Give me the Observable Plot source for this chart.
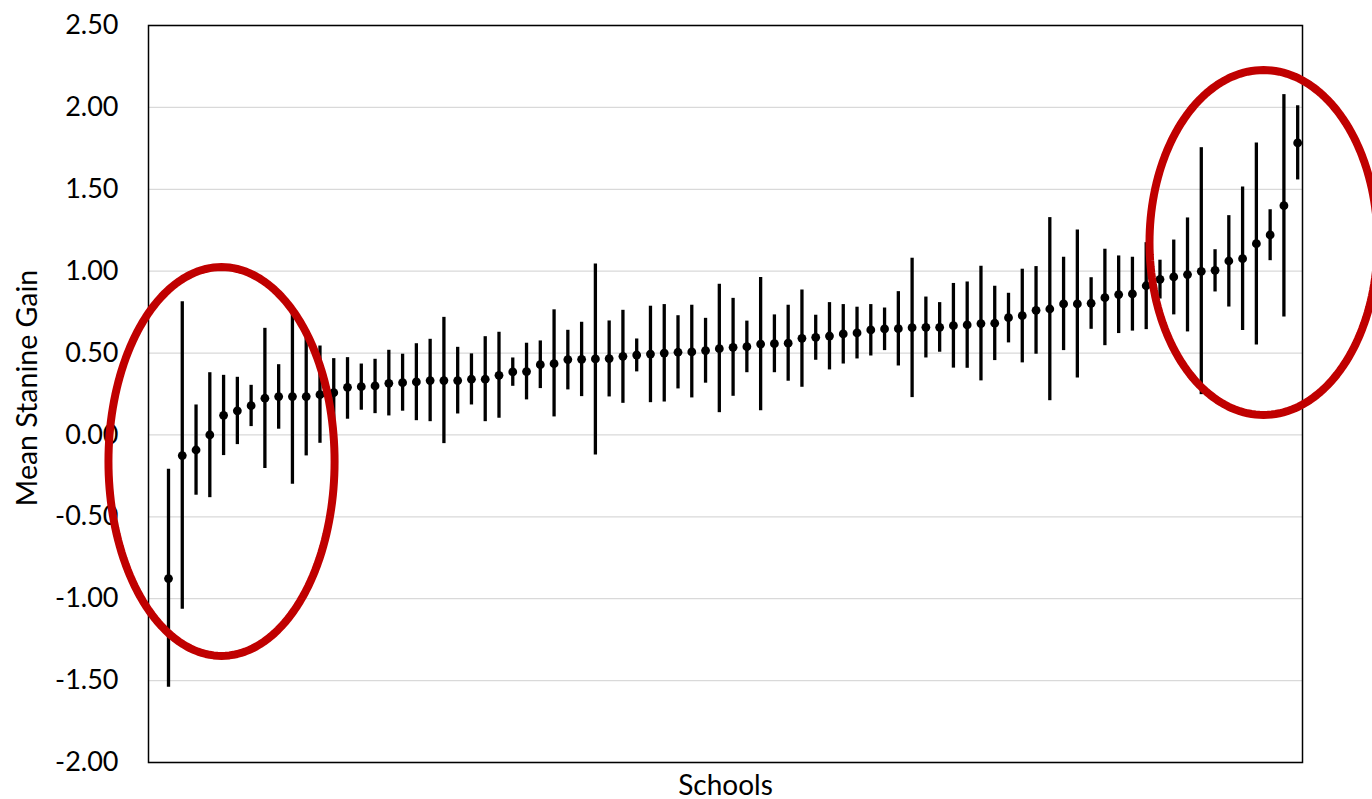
<!DOCTYPE html>
<html>
<head>
<meta charset="utf-8">
<script src="https://cdn.jsdelivr.net/npm/d3@7"></script>
<script src="https://cdn.jsdelivr.net/npm/@observablehq/plot@0.6"></script>
<style>
  html, body { margin: 0; padding: 0; background: #fff; }
  #chart svg { display: block; }
</style>
</head>
<body>
<div id="chart"></div>
<script>
// School means (sorted) with confidence interval bounds
const meanGain = [
  -0.877, -0.126, -0.092, 0.000, 0.120, 0.147, 0.179, 0.224, 0.234, 0.234,
   0.234,  0.246,  0.258, 0.291, 0.295, 0.299, 0.315, 0.319, 0.324, 0.332,
   0.332,  0.332,  0.340, 0.340, 0.364, 0.385, 0.387, 0.429, 0.435, 0.460,
   0.462,  0.464,  0.466, 0.480, 0.488, 0.494, 0.500, 0.505, 0.507, 0.515,
   0.527,  0.535,  0.539, 0.555, 0.557, 0.560, 0.590, 0.596, 0.604, 0.617,
   0.623,  0.641,  0.647, 0.649, 0.655, 0.657, 0.657, 0.667, 0.672, 0.680,
   0.682,  0.716,  0.728, 0.761, 0.769, 0.800, 0.800, 0.804, 0.838, 0.857,
   0.861,  0.911,  0.950, 0.965, 0.979, 0.999, 1.005, 1.062, 1.076, 1.168,
   1.221,  1.400,  1.783
];
const lowerBound = [
  -1.540, -1.064, -0.368, -0.383, -0.126, -0.059, 0.051, -0.205, 0.035, -0.301,
  -0.128, -0.051,  0.050,  0.096,  0.151,  0.130, 0.116,  0.145, 0.087,  0.081,
  -0.053,  0.128,  0.183,  0.081,  0.102,  0.297, 0.214,  0.283, 0.110,  0.275,
   0.234, -0.122,  0.232,  0.193,  0.385,  0.197, 0.201,  0.281, 0.226,  0.316,
   0.136,  0.236,  0.380,  0.147,  0.380,  0.328, 0.291,  0.456, 0.397,  0.433,
   0.464,  0.482,  0.515,  0.421,  0.228,  0.470, 0.505,  0.408, 0.407,  0.330,
   0.454,  0.562,  0.440,  0.493,  0.209,  0.515, 0.348,  0.645, 0.545,  0.619,
   0.634,  0.643,  0.830,  0.733,  0.629,  0.246, 0.873,  0.781, 0.637,  0.549,
   1.064,  0.720,  1.557
];
const upperBound = [
  -0.210, 0.814, 0.183, 0.380, 0.364, 0.352, 0.303, 0.651, 0.429, 0.737,
   0.594, 0.543, 0.466, 0.472, 0.433, 0.462, 0.517, 0.493, 0.557, 0.584,
   0.718, 0.535, 0.495, 0.600, 0.627, 0.470, 0.560, 0.574, 0.764, 0.639,
   0.688, 1.044, 0.696, 0.761, 0.586, 0.786, 0.796, 0.728, 0.792, 0.712,
   0.920, 0.834, 0.695, 0.962, 0.733, 0.792, 0.885, 0.731, 0.808, 0.796,
   0.780, 0.796, 0.775, 0.875, 1.079, 0.842, 0.808, 0.925, 0.934, 1.030,
   0.908, 0.865, 1.012, 1.028, 1.327, 1.085, 1.252, 0.960, 1.134, 1.093,
   1.085, 1.174, 1.067, 1.190, 1.325, 1.754, 1.131, 1.339, 1.514, 1.783,
   1.375, 2.078, 2.010
];
const yTicks = [-2, -1.5, -1, -0.5, 0, 0.5, 1, 1.5, 2, 2.5];

// Highlight ellipses (in data units: school index, gain)
const ellipseCenterX = [4.85, 80.52];
const ellipseCenterY = [-0.162, 1.175];
const ellipseRadiusX = [8.21, 8.28];
const ellipseRadiusY = [1.187, 1.053];

const schools = meanGain.map((m, i) => ({
  school: i + 1, mean: m, lo: lowerBound[i], hi: upperBound[i]
}));

const ellipsePts = [];
ellipseCenterX.forEach((cx, k) => {
  for (let a = 0; a <= 360; a += 2) {
    const t = a * Math.PI / 180;
    ellipsePts.push({
      id: k,
      x: cx + ellipseRadiusX[k] * Math.cos(t),
      y: ellipseCenterY[k] + ellipseRadiusY[k] * Math.sin(t)
    });
  }
});

const chart = Plot.plot({
  width: 1372,
  height: 799,
  marginLeft: 148,
  marginRight: 70,
  marginTop: 25,
  marginBottom: 37,
  style: { fontFamily: "Lato, 'Open Sans', sans-serif", fontSize: "27px", color: "#000", background: "#fff" },
  x: { domain: [-0.4525, 83.35], axis: null },
  y: { domain: [-2, 2.5] },
  marks: [
    Plot.gridY(yTicks, { stroke: "#d9d9d9", strokeOpacity: 1, strokeWidth: 1.3 }),
    Plot.axisY(yTicks, {
      tickSize: 0, tickPadding: 30, label: null,
      tickFormat: d => d.toFixed(2), fontSize: 27, fill: "#000"
    }),
    Plot.frame({ stroke: "#000", strokeWidth: 1.5 }),
    Plot.ruleX(schools, { x: "school", y1: "lo", y2: "hi", stroke: "#000", strokeWidth: 3.3 }),
    Plot.dot(schools, { x: "school", y: "mean", r: 4.4, fill: "#000", stroke: null }),
    Plot.line(ellipsePts, { x: "x", y: "y", z: "id", stroke: "#C00000", strokeWidth: 8, clip: false }),
    Plot.text(["Schools"], { frameAnchor: "bottom", dy: 32, lineAnchor: "bottom", fontSize: 28, fill: "#000" }),
    Plot.text(["Mean Stanine Gain"], { frameAnchor: "left", textAnchor: "middle", rotate: -90, dx: -121, dy: -6, fontSize: 28.5, fill: "#000" })
  ]
});
document.getElementById("chart").appendChild(chart);
</script>
</body>
</html>
